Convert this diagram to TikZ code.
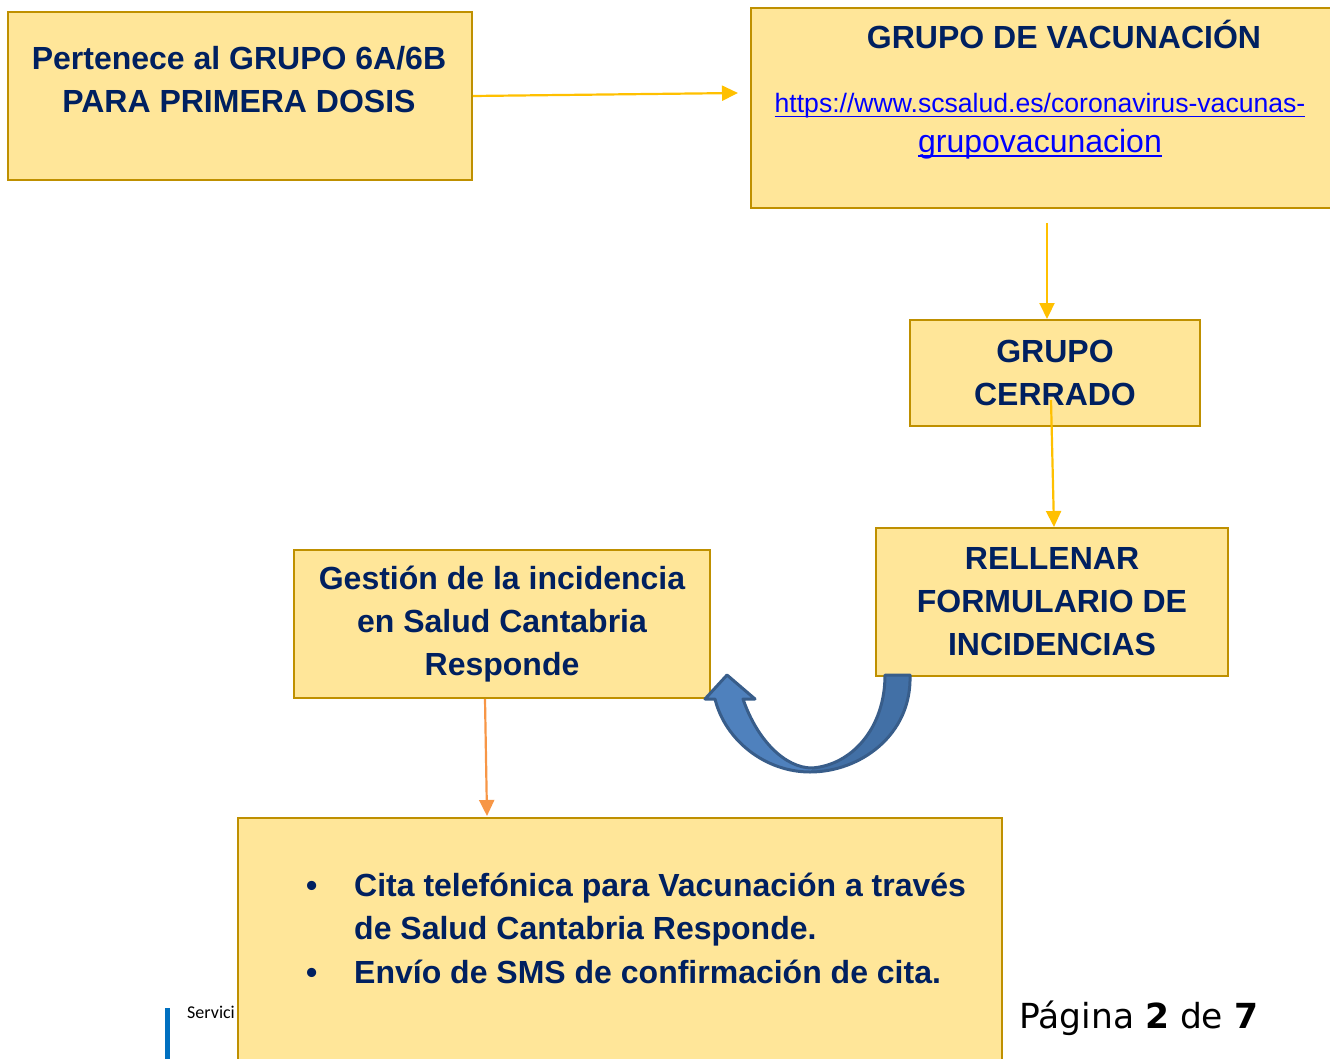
\documentclass[tikz,border=0pt]{standalone}
\usepackage{fontspec}
\setmainfont{Liberation Sans}
\newfontfamily\pagefont{DejaVu Sans}
\newfontfamily\footfont{Carlito}
\usepackage{xcolor}
\usetikzlibrary{arrows.meta,positioning,calc}

\newcommand{\linkline}[1]{\leavevmode\setbox0=\hbox{#1}\rlap{\rule[-4.5pt]{\wd0}{1.8pt}}\box0}

\definecolor{boxfill}{HTML}{FFE699}
\definecolor{boxline}{HTML}{BF9000}
\definecolor{navytext}{HTML}{002060}
\definecolor{flowyellow}{HTML}{FFC000}
\definecolor{floworange}{HTML}{F79646}
\definecolor{turnlight}{HTML}{4F81BD}
\definecolor{turndark}{HTML}{4270A6}
\definecolor{turnline}{HTML}{385D8A}
\definecolor{barblue}{HTML}{0070C0}

\begin{document}
\begin{tikzpicture}[
    x=1pt, y=-1pt,
    box/.style={rectangle, draw=boxline, fill=boxfill, line width=2pt, anchor=north west, inner sep=0pt},
    title/.style={text=navytext, font=\bfseries\fontsize{32}{43}\selectfont, align=center, inner sep=0pt},
    link/.style={text=blue, inner sep=0pt},
    arrow/.style={-{Triangle[length=16pt,width=15pt]}, line width=2.2pt, draw=flowyellow}
]
    \useasboundingbox (0,0) rectangle (1330,1059);

    % Footer (under the last box)
    \fill[barblue] (165,1008) rectangle (170,1059);
    \node[anchor=base west, inner sep=0pt, font=\footfont\fontsize{18}{20}\selectfont] (footer) at (187,1018) {Servici};
    \node[anchor=base west, inner sep=0pt, font=\pagefont\fontsize{34.5}{36}\selectfont] (pagina) at (1019,1028) {Página \textbf{2} de \textbf{7}};

    % Boxes
    \node[box, minimum width=464, minimum height=168] (pertenece) at (7,11) {};
    \node[title] (pertenecetxt) at (239,80) {Pertenece al GRUPO 6A/6B\\PARA PRIMERA DOSIS};

    \node[box, minimum width=580, minimum height=200] (vacunacion) at (750,7) {};
    \node[title] (vacunaciontxt) at (1064,34) {GRUPO DE VACUNACIÓN};
    \node[link, font=\fontsize{26.6}{30}\selectfont] (urlone) at (1040,106) {\linkline{https://www.scsalud.es/coronavirus-vacunas-}};
    \node[link, font=\fontsize{32}{36}\selectfont] (urltwo) at (1040,144) {\linkline{grupovacunacion}};

    \node[box, minimum width=290, minimum height=106, title] (cerrado) at (909,319) {GRUPO\\CERRADO};
    \node[box, minimum width=352, minimum height=148, title] (rellenar) at (875,527) {RELLENAR\\FORMULARIO DE\\INCIDENCIAS};
    \node[box, minimum width=416, minimum height=148, title] (gestion) at (293,549) {Gestión de la incidencia\\en Salud Cantabria\\Responde};

    \node[box, minimum width=764, minimum height=280] (cita) at (237,817) {};
    \node[title, align=left, anchor=north west] (citatxt) at (306,866) {%
        \begin{tabular}{@{}p{48pt}@{}l@{}}
        \textbullet & Cita telefónica para Vacunación a través\\[0pt]
                    & de Salud Cantabria Responde.\\[1pt]
        \textbullet & Envío de SMS de confirmación de cita.
        \end{tabular}};

    % Arrows
    \coordinate (vacunacionin) at (738,93);
    \coordinate (vacunacionout) at (1047,223);
    \coordinate (cerradoout) at (1051,400);
    \coordinate (citain) at (487,816);
    \draw[arrow] (pertenece.east) -- (vacunacionin);
    \draw[arrow] (vacunacionout) -- (vacunacionout |- cerrado.north);
    \draw[arrow] (cerradoout) -- ($(rellenar.north)+(2,0)$);
    \draw[arrow, draw=floworange] (gestion.south -| 485,0) -- (citain);

    % Turning arrow
    \fill[turndark] (910,675) .. controls (912,735) and (860,772) .. (810,772) -- (812,768)
        .. controls (852,765) and (885,728) .. (885,675) -- cycle;
    \fill[turnlight] (810,772) .. controls (765,772) and (725,740) .. (715,699) -- (705,699) -- (727,675)
        -- (755,699) -- (743,699) .. controls (757,740) and (785,768) .. (812,768) -- cycle;
    \draw[turnline, line width=3pt, line join=round] (910,675) .. controls (912,735) and (860,772) .. (810,772)
        .. controls (765,772) and (725,740) .. (715,699) -- (705,699) -- (727,675) -- (755,699) -- (743,699)
        .. controls (757,740) and (785,768) .. (812,768) .. controls (852,765) and (885,728) .. (885,675) -- cycle;
\end{tikzpicture}
\end{document}
